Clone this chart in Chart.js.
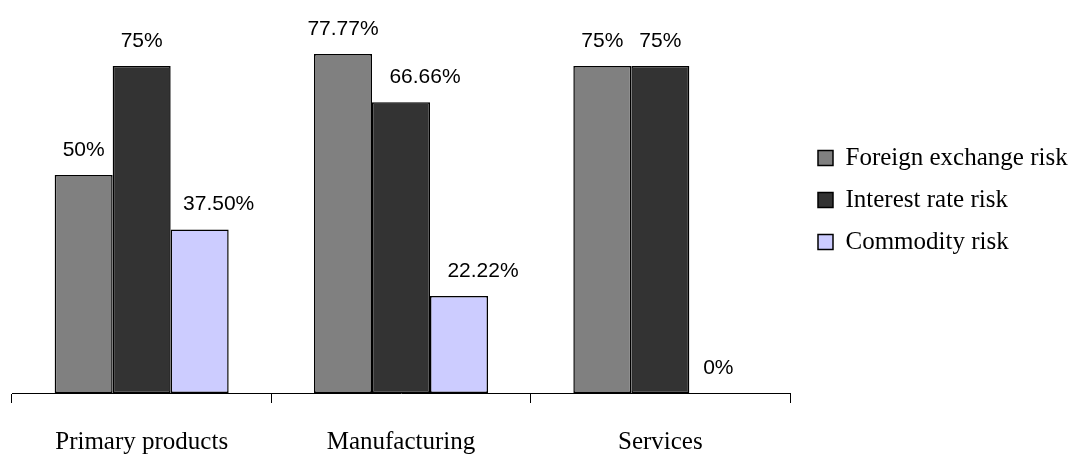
<!DOCTYPE html>
<html>
<head>
<meta charset="utf-8">
<script src="https://cdn.jsdelivr.net/npm/chart.js@4"></script>
<style>
  html, body { margin: 0; padding: 0; background: #fff; }
  #wrap { width: 1074px; height: 454px; }
</style>
</head>
<body>
<div id="wrap"><canvas id="myChart"></canvas></div>
<script>
// chart data
var categories = ['Primary products', 'Manufacturing', 'Services'];
var seriesNames = ['Foreign exchange risk', 'Interest rate risk', 'Commodity risk'];
var foreignExchange = [50, 77.77, 75];
var interestRate = [75, 66.66, 75];
var commodity = [37.5, 22.22, 0];
var seriesColors = ['#808080', '#333333', '#CCCCFF'];

var serif = "'Liberation Serif', 'Times New Roman', serif";
var sans = "'Liberation Sans', Arial, sans-serif";

function fmt(v) {
    return (Number.isInteger(v) ? v : v.toFixed(2)) + '%';
}

// value labels above each bar
var barLabels = {
    id: 'barLabels',
    afterDatasetsDraw: function (chart, args, opts) {
        var ctx = chart.ctx;
        ctx.save();
        ctx.font = '21px ' + sans;
        ctx.fillStyle = '#000';
        ctx.textAlign = 'center';
        ctx.textBaseline = 'alphabetic';
        chart.data.datasets.forEach(function (ds, i) {
            var meta = chart.getDatasetMeta(i);
            meta.data.forEach(function (bar, j) {
                // a few labels sit a bit to the right in the original
                var dx = (opts.nudge[i] && opts.nudge[i][j]) || 0;
                ctx.fillText(fmt(ds.data[j]), bar.x + dx, bar.y - 19);
            });
        });
        ctx.restore();
    }
};

var chartData = {
    labels: categories,
    datasets: [foreignExchange, interestRate, commodity].map(function (d, i) {
        return {
            label: seriesNames[i],
            data: d,
            backgroundColor: seriesColors[i],
            borderColor: '#000',
            borderWidth: 1.5,
            borderSkipped: false,
            barPercentage: 1,
            categoryPercentage: 0.671
        };
    })
};

var ctx = document.getElementById('myChart').getContext('2d');
window.myChart = new Chart(ctx, {
    type: 'bar',
    data: chartData,
    plugins: [barLabels],
    options: {
        responsive: true,
        maintainAspectRatio: false,
        animation: false,
        layout: { padding: { left: 12, top: 7, right: 0, bottom: 0 } },
        plugins: {
            tooltip: { enabled: false },
            barLabels: { nudge: [[0, 0, 0], [0, 24, 0], [19, 24, 0]] },
            legend: {
                position: 'right',
                fullSize: false,
                maxWidth: 273,
                labels: {
                    boxWidth: 15,
                    boxHeight: 15,
                    padding: 17,
                    color: '#000',
                    font: { family: serif, size: 25 }
                }
            }
        },
        scales: {
            x: {
                grid: {
                    display: true,
                    drawOnChartArea: false,
                    drawTicks: true,
                    tickLength: 10,
                    color: '#000',
                    offset: true
                },
                border: { display: true, color: '#000', width: 1 },
                ticks: {
                    color: '#000',
                    padding: 24,
                    maxRotation: 0,
                    font: { family: serif, size: 25 }
                },
                afterFit: function (scale) { scale.height = 61; }
            },
            y: {
                position: 'right',
                min: 0,
                max: 88.53,
                grid: { display: false },
                border: { display: false },
                ticks: { display: false },
                afterFit: function (scale) { scale.width = 11; }
            }
        }
    }
});
</script>
</body>
</html>
